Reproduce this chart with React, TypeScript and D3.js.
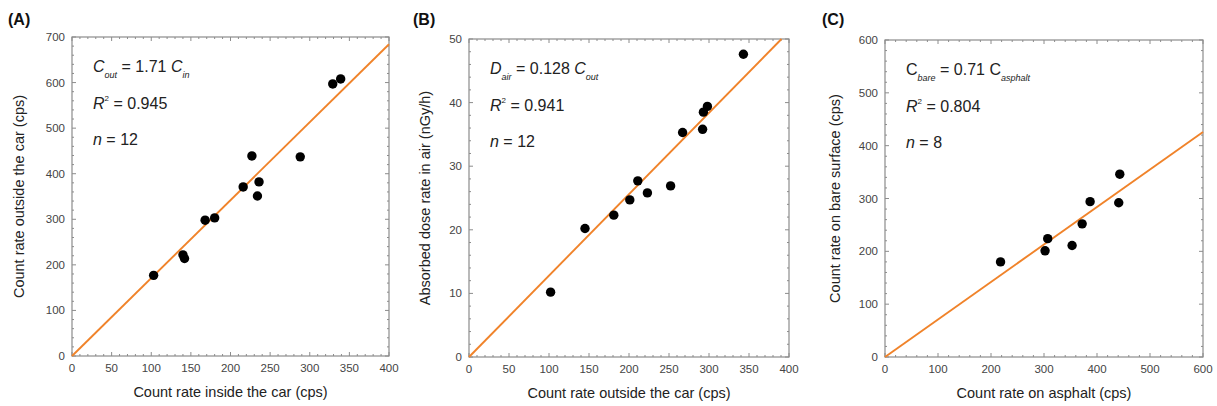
import React from 'react'
import * as d3 from 'd3'

// (A) inside vs outside the car
const insideCar = [103, 140, 142, 168, 180, 216, 227, 234, 236, 288, 329, 339]
const outsideCar = [177, 222, 214, 298, 303, 371, 439, 351, 382, 437, 597, 608]

// (B) outside count rate vs absorbed dose rate
const outsideCarB = [102, 145, 181, 201, 211, 223, 252, 267, 292, 293, 298, 343]
const doseRate = [10.2, 20.2, 22.3, 24.7, 27.7, 25.8, 26.9, 35.3, 35.8, 38.5, 39.4, 47.6]

// (C) asphalt vs bare surface
const asphalt = [218, 302, 307, 353, 372, 387, 441, 443]
const bareSurface = [180, 201, 224, 211, 252, 294, 292, 346]

const xTicksA = [0, 50, 100, 150, 200, 250, 300, 350, 400]
const yTicksA = [0, 100, 200, 300, 400, 500, 600, 700]
const xTicksB = [0, 50, 100, 150, 200, 250, 300, 350, 400]
const yTicksB = [0, 10, 20, 30, 40, 50]
const xTicksC = [0, 100, 200, 300, 400, 500, 600]
const yTicksC = [0, 100, 200, 300, 400, 500, 600]

const slopes = [1.71, 0.128, 0.71]

const FONT = '"Liberation Sans", Arial, Helvetica, sans-serif'
const FRAME = '#8c8c8c'
const ORANGE = '#f0832a'

type Eq = { main: string; sub: string; mid: string; sub2: string; italic: boolean; r2: string; n: string }

type PanelProps = {
  tag: string
  tagX: number
  left: number; top: number; right: number; bottom: number
  xs: number[]; ys: number[]
  xTicks: number[]; yTicks: number[]
  xMinor: number; yMinor: number
  slope: number
  xTitle: string; yTitle: string
  yTitleX: number
  eq: Eq
}

function Panel(p: PanelProps) {
  const x = d3.scaleLinear().domain([0, p.xTicks[p.xTicks.length - 1]]).range([p.left, p.right])
  const y = d3.scaleLinear().domain([0, p.yTicks[p.yTicks.length - 1]]).range([p.bottom, p.top])
  const [x0, x1] = x.domain()
  const [y0, y1] = y.domain()
  const xMinors = d3.range(x0, x1 + 1e-9, p.xMinor)
  const yMinors = d3.range(y0, y1 + 1e-9, p.yMinor)
  const isMajor = (v: number, list: number[]) => list.some(t => Math.abs(t - v) < 1e-6)

  // fit line y = slope*x clipped to the plot box
  const xEnd = Math.min(x1, y1 / p.slope)
  const fit = d3.line<number>().x(d => x(d)).y(d => y(p.slope * d))([0, xEnd]) || ''

  const tx = p.left + 21
  const midX = (p.left + p.right) / 2
  const midY = (p.top + p.bottom) / 2
  const st = p.eq.italic ? 'italic' : 'normal'

  return (
    <g>
      <text x={p.tagX} y={25} fontSize={16} fontWeight="bold" fill="#111" fontFamily={FONT}>{p.tag}</text>
      {/* ticks */}
      {xMinors.map(v => {
        const len = isMajor(v, p.xTicks) ? 4 : 2
        return (
          <g key={'x' + v} stroke={FRAME} strokeWidth={1}>
            <line x1={x(v)} x2={x(v)} y1={p.bottom} y2={p.bottom - len} />
            <line x1={x(v)} x2={x(v)} y1={p.top} y2={p.top + len} />
          </g>
        )
      })}
      {yMinors.map(v => {
        const len = isMajor(v, p.yTicks) ? 4 : 2
        return (
          <g key={'y' + v} stroke={FRAME} strokeWidth={1}>
            <line x1={p.left} x2={p.left + len} y1={y(v)} y2={y(v)} />
            <line x1={p.right} x2={p.right - len} y1={y(v)} y2={y(v)} />
          </g>
        )
      })}
      <rect x={p.left} y={p.top} width={p.right - p.left} height={p.bottom - p.top}
        fill="none" stroke={FRAME} strokeWidth={1.2} />
      {/* tick labels */}
      {p.xTicks.map(v => (
        <text key={'xl' + v} x={x(v)} y={p.bottom + 16} textAnchor="middle" fontSize={11.5}
          fill="#444" fontFamily={FONT}>{v}</text>
      ))}
      {p.yTicks.map(v => (
        <text key={'yl' + v} x={p.left - 7} y={y(v) + 4} textAnchor="end" fontSize={11.5}
          fill="#444" fontFamily={FONT}>{v}</text>
      ))}
      {/* axis titles */}
      <text x={midX} y={p.bottom + 41} textAnchor="middle" fontSize={14.5} fill="#222"
        fontFamily={FONT}>{p.xTitle}</text>
      <text transform={`translate(${p.yTitleX},${midY}) rotate(-90)`} textAnchor="middle"
        fontSize={14.5} fill="#222" fontFamily={FONT} dy={5}>{p.yTitle}</text>
      {/* fit and points */}
      <path d={fit} fill="none" stroke={ORANGE} strokeWidth={1.9} />
      {p.xs.map((v, i) => (
        <circle key={'pt' + i} cx={x(v)} cy={y(p.ys[i])} r={4.7} fill="#000" />
      ))}
      {/* equation */}
      <text x={tx} y={p.top + 35} fontSize={16} fill="#222" fontFamily={FONT}>
        <tspan fontStyle={st}>{p.eq.main}</tspan>
        <tspan fontSize={9} fontStyle="italic" dy={6}>{p.eq.sub}</tspan>
        <tspan dy={-6}>{p.eq.mid}</tspan>
        <tspan fontStyle={st}>C</tspan>
        <tspan fontSize={9} fontStyle="italic" dy={6}>{p.eq.sub2}</tspan>
      </text>
      <text x={tx} y={p.top + 72} fontSize={16} fill="#222" fontFamily={FONT}>
        <tspan fontStyle="italic">R</tspan>
        <tspan fontSize={8} dy={-8}>2</tspan>
        <tspan dy={8}>{' = ' + p.eq.r2}</tspan>
      </text>
      <text x={tx} y={p.top + 108} fontSize={16} fill="#222" fontFamily={FONT}>
        <tspan fontStyle="italic">n</tspan>
        <tspan>{' = ' + p.eq.n}</tspan>
      </text>
    </g>
  )
}

export default function App() {
  return (
    <svg width={1217} height={406} style={{ position: 'absolute', left: 0, top: 0, background: '#fff' }}>
      <Panel tag="(A)" tagX={8} left={72} top={37} right={389} bottom={356}
        xs={insideCar} ys={outsideCar} xTicks={xTicksA} yTicks={yTicksA} xMinor={10} yMinor={20}
        slope={slopes[0]} xTitle="Count rate inside the car (cps)" yTitle="Count rate outside the car (cps)"
        yTitleX={19}
        eq={{ main: 'C', sub: 'out', mid: ' = 1.71 ', sub2: 'in', italic: true, r2: '0.945', n: '12' }} />
      <Panel tag="(B)" tagX={413} left={469} top={39} right={789} bottom={357}
        xs={outsideCarB} ys={doseRate} xTicks={xTicksB} yTicks={yTicksB} xMinor={10} yMinor={2}
        slope={slopes[1]} xTitle="Count rate outside the car (cps)" yTitle="Absorbed dose rate in air (nGy/h)"
        yTitleX={425}
        eq={{ main: 'D', sub: 'air', mid: ' = 0.128 ', sub2: 'out', italic: true, r2: '0.941', n: '12' }} />
      <Panel tag="(C)" tagX={822} left={885} top={40} right={1203} bottom={357}
        xs={asphalt} ys={bareSurface} xTicks={xTicksC} yTicks={yTicksC} xMinor={20} yMinor={20}
        slope={slopes[2]} xTitle="Count rate on asphalt (cps)" yTitle="Count rate on bare surface (cps)"
        yTitleX={835}
        eq={{ main: 'C', sub: 'bare', mid: ' = 0.71 ', sub2: 'asphalt', italic: false, r2: '0.804', n: '8' }} />
    </svg>
  )
}
